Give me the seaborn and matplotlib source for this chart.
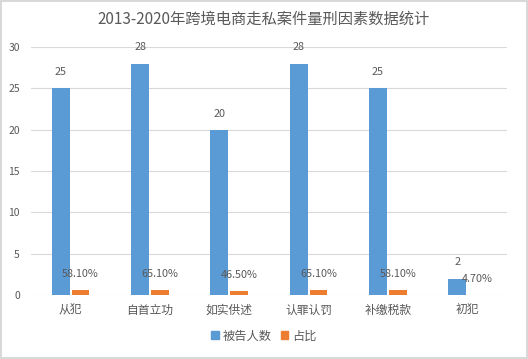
import matplotlib.pyplot as plt
import pandas as pd
import seaborn as sns
from matplotlib import ticker

categories = ["从犯", "自首立功", "如实供述", "认罪认罚", "补缴税款", "初犯"]
defendants = [25, 28, 20, 28, 25, 2]
ratio = [0.581, 0.651, 0.465, 0.651, 0.581, 0.047]
ratio_labels = ["58.10%", "65.10%", "46.50%", "65.10%", "58.10%", "4.70%"]
series = ["被告人数", "占比"]

TEXT = "#595959"
GRID = "#D9D9D9"


def main() -> None:
    sns.set_theme(style="white")
    plt.rcParams["font.family"] = ["Noto Sans CJK SC", "DejaVu Sans"]

    df = pd.DataFrame(
        {
            "category": categories * 2,
            "value": defendants + ratio,
            "series": [series[0]] * len(categories) + [series[1]] * len(categories),
        }
    )

    fig = plt.figure(figsize=(5.28, 3.59), dpi=100)
    ax = fig.add_axes([0.0587, 0.178, 0.9013, 0.691])

    sns.barplot(
        data=df,
        x="category",
        y="value",
        hue="series",
        hue_order=series,
        order=categories,
        palette=["#5B9BD5", "#ED7D31"],
        width=0.5,
        gap=0.1,
        saturation=1,
        linewidth=0,
        ax=ax,
    )

    ax.set_ylim(0, 30)
    ax.yaxis.set_major_locator(ticker.MultipleLocator(5))
    ax.grid(axis="y", color=GRID, linewidth=0.8)
    ax.set_axisbelow(True)
    sns.despine(ax=ax, left=True, bottom=True, top=True, right=True)
    ax.tick_params(axis="y", length=0, labelsize=7.5, colors=TEXT, pad=8)
    ax.tick_params(axis="x", length=0, labelsize=8.5, colors=TEXT, pad=6)
    ax.set_xlabel("")
    ax.set_ylabel("")
    ax.set_xlim(-0.5, len(categories) - 0.5)

    ax.bar_label(ax.containers[0], labels=[str(v) for v in defendants],
                 padding=8, fontsize=7.8, color=TEXT)
    ax.bar_label(ax.containers[1], labels=ratio_labels,
                 padding=8, fontsize=7.8, color=TEXT)

    ax.legend_.remove()
    handles = [plt.Rectangle((0, 0), 1, 1, color=c) for c in ["#5B9BD5", "#ED7D31"]]
    fig.legend(handles, series, loc="lower center", bbox_to_anchor=(0.5, 0.015),
               ncol=2, frameon=False, handlelength=0.6, handleheight=0.6,
               handletextpad=0.3, columnspacing=0.8, fontsize=8.8, labelcolor=TEXT)

    fig.text(0.5, 0.947, "2013-2020年跨境电商走私案件量刑因素数据统计",
             ha="center", va="center", fontsize=11, color=TEXT)

    fig.patch.set_edgecolor(GRID)
    fig.patch.set_linewidth(1.5)
    fig.savefig("out.png", dpi=100)
    plt.close(fig)


if __name__ == "__main__":
    main()
